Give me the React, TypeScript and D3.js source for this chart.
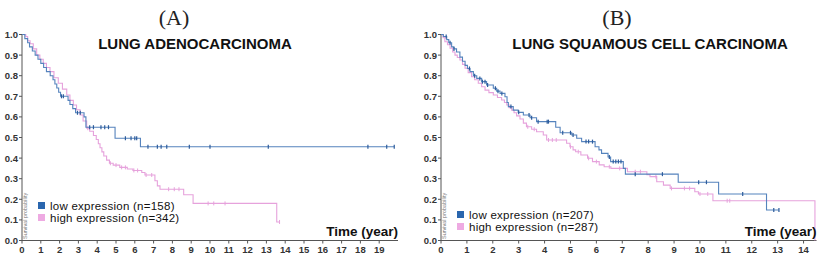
import React from "react";
import * as d3 from "d3";

// ---------- DATA ----------
const panelLabels = ["(A)", "(B)"];
const panelTitles = ["LUNG ADENOCARCINOMA", "LUNG SQUAMOUS CELL CARCINOMA"];
const legendLow = ["low expression (n=158)", "low expression (n=207)"];
const legendHigh = ["high expression (n=342)", "high expression (n=287)"];
const yTicks = [0, 0.1, 0.2, 0.3, 0.4, 0.5, 0.6, 0.7, 0.8, 0.9, 1.0];
const xTicksA = d3.range(0, 20);
const xTicksB = d3.range(0, 15);

// Panel A - low expression (time, survival after step)
const aLow: [number, number][] = [
  [0, 1.0], [0.15, 0.98], [0.3, 0.96], [0.4, 0.94], [0.55, 0.92], [0.7, 0.9], [0.85, 0.88],
  [1.0, 0.86], [1.15, 0.84], [1.3, 0.82], [1.5, 0.8], [1.65, 0.78], [1.75, 0.76], [1.85, 0.74],
  [1.95, 0.72], [2.05, 0.7], [2.45, 0.68], [2.55, 0.66], [2.7, 0.64], [2.85, 0.62], [3.3, 0.6],
  [3.4, 0.55], [4.95, 0.496], [6.3, 0.455], [19.8, 0.455],
];
const aLowCens = [2.1, 2.2, 2.95, 3.1, 3.6, 3.8, 4.2, 4.4, 4.6, 5.5, 5.8, 6.0, 6.1, 6.7, 7.2, 7.4, 7.7, 8.9, 10.0, 13.1, 18.4, 19.4, 19.8];

// Panel A - high expression
const aHigh: [number, number][] = [
  [0, 1.0], [0.2, 0.99], [0.3, 0.97], [0.43, 0.955], [0.6, 0.93], [0.78, 0.9], [0.95, 0.88],
  [1.13, 0.86], [1.3, 0.84], [1.49, 0.82], [1.7, 0.79], [1.93, 0.763], [2.15, 0.735], [2.38, 0.706],
  [2.55, 0.68], [2.73, 0.658], [2.9, 0.635], [3.09, 0.609], [3.25, 0.58], [3.44, 0.545], [3.6, 0.53],
  [3.8, 0.51], [3.95, 0.49], [4.06, 0.47], [4.15, 0.45], [4.25, 0.43], [4.35, 0.41], [4.5, 0.39],
  [4.65, 0.375], [4.85, 0.366], [5.2, 0.355], [5.6, 0.347], [5.9, 0.34], [6.37, 0.33], [6.54, 0.318],
  [7.07, 0.29], [7.2, 0.265], [7.34, 0.249], [8.6, 0.222], [9.1, 0.18], [13.55, 0.09], [13.7, 0.09],
];
const aHighCens = [3.5, 4.7, 5.0, 5.3, 5.5, 5.95, 6.15, 6.6, 6.9, 7.8, 8.1, 8.35, 9.9, 10.2, 10.8, 13.7];

// Panel B - low expression
const bLow: [number, number][] = [
  [0, 1.0], [0.09, 0.99], [0.22, 0.975], [0.3, 0.96], [0.41, 0.94], [0.5, 0.93], [0.6, 0.915],
  [0.73, 0.89], [0.83, 0.87], [0.93, 0.85], [1.02, 0.835], [1.12, 0.82], [1.25, 0.8], [1.38, 0.787],
  [1.57, 0.771], [1.76, 0.755], [2.02, 0.739], [2.15, 0.725], [2.28, 0.714], [2.47, 0.698],
  [2.55, 0.67], [2.6, 0.65], [2.79, 0.633], [2.98, 0.622], [3.18, 0.609], [3.44, 0.596],
  [3.69, 0.577], [4.43, 0.55], [4.6, 0.523], [5.05, 0.512], [5.24, 0.496], [5.43, 0.48],
  [5.95, 0.455], [6.1, 0.44], [6.2, 0.423], [6.45, 0.405], [6.55, 0.383], [7.04, 0.35],
  [7.12, 0.322], [9.16, 0.283], [10.72, 0.226], [12.57, 0.148], [13.05, 0.148],
];
const bLowCens = [0.2, 0.35, 0.5, 1.1, 1.3, 1.5, 1.6, 1.7, 1.8, 2.1, 2.2, 2.35, 2.7, 3.0, 3.4, 3.5, 3.75, 4.1, 4.15, 4.7, 5.0, 5.1, 5.6, 5.7, 5.85, 6.5, 6.65, 6.75, 6.85, 6.95, 7.5, 8.55, 9.95, 10.25, 11.65, 12.85, 13.05];

// Panel B - high expression
const bHigh: [number, number][] = [
  [0, 1.0], [0.08, 0.985], [0.15, 0.965], [0.25, 0.95], [0.35, 0.933], [0.45, 0.915], [0.54, 0.9],
  [0.63, 0.888], [0.73, 0.876], [0.83, 0.855], [0.93, 0.836], [1.05, 0.815], [1.18, 0.795],
  [1.3, 0.78], [1.44, 0.763], [1.57, 0.746], [1.7, 0.73], [1.85, 0.718], [2.02, 0.706],
  [2.18, 0.694], [2.34, 0.682], [2.45, 0.67], [2.54, 0.658], [2.63, 0.645], [2.73, 0.633],
  [2.82, 0.62], [2.92, 0.605], [3.05, 0.59], [3.18, 0.57], [3.3, 0.552], [3.5, 0.54], [3.69, 0.528],
  [3.95, 0.512], [4.08, 0.488], [4.85, 0.472], [4.98, 0.455], [5.1, 0.44], [5.2, 0.431], [5.4, 0.415],
  [5.66, 0.399], [5.85, 0.383], [6.11, 0.367], [6.3, 0.358], [6.56, 0.35], [7.2, 0.334], [7.95, 0.32],
  [8.07, 0.31], [8.33, 0.285], [8.59, 0.269], [8.85, 0.253], [9.8, 0.237], [9.94, 0.226],
  [10.5, 0.193], [14.44, 0.0],
];
const bHighCens = [3.35, 3.6, 4.15, 4.3, 4.45, 5.0, 5.3, 5.7, 6.0, 6.5, 6.9, 7.5, 7.7, 8.3, 8.9, 9.4, 9.6, 10.0, 10.3, 11.05, 11.15];

// ---------- STYLE ----------
const BLUE = "#5583bd";
const BLUE_MARK = "#2d5c9c";
const PINK = "#e6a2dc";
const BLUE_SQ = "#2a66ae";
const PINK_SQ = "#eeaae2";

function survAt(data: [number, number][], t: number) {
  let s = data[0][1];
  for (const [tt, ss] of data) {
    if (tt <= t) s = ss;
    else break;
  }
  return s;
}

type PanelProps = {
  idx: number;
  x0: number;
  x1: number;
  xMax: number;
  xTicks: number[];
  low: [number, number][];
  lowCens: number[];
  high: [number, number][];
  highCens: number[];
  legendY: number;
  labelX: number;
  titleX: number;
};

function Panel(p: PanelProps) {
  const x = d3.scaleLinear().domain([0, p.xMax]).range([p.x0, p.x1]);
  const y = d3.scaleLinear().domain([0, 1]).range([240.5, 34.5]);
  const line = d3
    .line<[number, number]>()
    .x((d) => x(d[0]))
    .y((d) => y(d[1]))
    .curve(d3.curveStepAfter);
  const axisColor = "#555";
  const tickFont = "Liberation Sans, Arial, sans-serif";
  return (
    <g>
      <text x={p.labelX} y={25} textAnchor="middle" fontFamily="Liberation Serif, serif" fontSize={22} fill="#222">
        {panelLabels[p.idx]}
      </text>
      <text x={p.titleX} y={49} textAnchor="middle" fontFamily={tickFont} fontWeight="bold" fontSize={15} fill="#111">
        {panelTitles[p.idx]}
      </text>
      {/* y axis */}
      <line x1={p.x0} x2={p.x0} y1={y(1)} y2={y(0)} stroke={axisColor} strokeWidth={1} />
      {yTicks.map((v) => (
        <g key={"y" + v}>
          <line x1={p.x0 - 3} x2={p.x0} y1={y(v)} y2={y(v)} stroke={axisColor} />
          <text x={p.x0 - 4} y={y(v) + 3.5} textAnchor="end" fontFamily={tickFont} fontWeight="bold" fontSize={9.5} fill="#333">
            {v.toFixed(1)}
          </text>
        </g>
      ))}
      {/* x axis */}
      <line x1={p.x0} x2={p.x1} y1={y(0)} y2={y(0)} stroke={axisColor} strokeWidth={1} />
      {p.xTicks.map((v) => (
        <g key={"x" + v}>
          <line x1={x(v)} x2={x(v)} y1={y(0)} y2={y(0) + 3} stroke={axisColor} />
          <text x={x(v)} y={253} textAnchor="middle" fontFamily={tickFont} fontWeight="bold" fontSize={9.5} fill="#333">
            {v}
          </text>
        </g>
      ))}
      <text
        transform={`translate(${p.x0 + 5},239) rotate(-90)`}
        fontFamily={tickFont}
        fontSize={5.5}
        fill="#777"
      >
        Survival probability
      </text>
      {/* curves */}
      <path d={line(p.high) || ""} fill="none" stroke={PINK} strokeWidth={1.1} />
      {p.highCens.map((t, i) => (
        <line key={"hc" + i} x1={x(t)} x2={x(t)} y1={y(survAt(p.high, t)) - 2} y2={y(survAt(p.high, t)) + 2} stroke={PINK} strokeWidth={1} />
      ))}
      <path d={line(p.low) || ""} fill="none" stroke={BLUE} strokeWidth={1.1} />
      {p.lowCens.map((t, i) => (
        <line key={"lc" + i} x1={x(t)} x2={x(t)} y1={y(survAt(p.low, t)) - 2} y2={y(survAt(p.low, t)) + 2} stroke={BLUE_MARK} strokeWidth={1.2} />
      ))}
      {/* legend */}
      <rect x={p.x0 + 16} y={p.legendY - 8} width={7} height={7} fill={BLUE_SQ} />
      <text x={p.x0 + 28} y={p.legendY} fontFamily={tickFont} fontSize={11.5} letterSpacing={0.25} fill="#111">
        {legendLow[p.idx]}
      </text>
      <rect x={p.x0 + 16} y={p.legendY + 4} width={7} height={7} fill={PINK_SQ} />
      <text x={p.x0 + 28} y={p.legendY + 12} fontFamily={tickFont} fontSize={11.5} letterSpacing={0.25} fill="#111">
        {legendHigh[p.idx]}
      </text>
      <text x={p.x1} y={236} textAnchor="end" fontFamily={tickFont} fontWeight="bold" fontSize={13.5} fill="#111">
        Time (year)
      </text>
    </g>
  );
}

export default function App() {
  return (
    <svg
      width={819}
      height={257}
      style={{ position: "absolute", left: 0, top: 0, background: "#fff" }}
    >
      <rect width={819} height={257} fill="#fff" />
      <Panel idx={0} x0={22} x1={398} xMax={20} xTicks={xTicksA} low={aLow} lowCens={aLowCens} high={aHigh} highCens={aHighCens} legendY={210} labelX={174} titleX={195} />
      <Panel idx={1} x0={441} x1={816.5} xMax={14.5} xTicks={xTicksB} low={bLow} lowCens={bLowCens} high={bHigh} highCens={bHighCens} legendY={219} labelX={617} titleX={650} />
    </svg>
  );
}
